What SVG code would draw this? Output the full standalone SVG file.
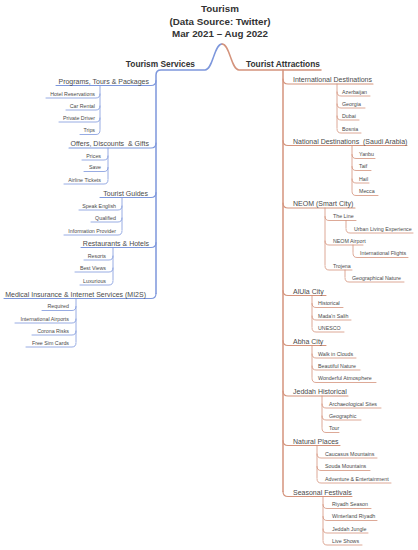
<svg xmlns="http://www.w3.org/2000/svg" width="418" height="550" viewBox="0 0 418 550">
<style>
text{font-family:"Liberation Sans",Arial,sans-serif;fill:#4a4a4a;white-space:pre}
.t{font-size:9.8px;font-weight:bold;fill:#333;text-anchor:middle}
.r{font-size:8.4px;font-weight:bold;fill:#333}
.l1{font-size:7px}
.l2{font-size:5.3px}
.e{text-anchor:end}
path{fill:none;stroke-linecap:round}
.b{stroke:#7d97dc}
.o{stroke:#d4937c}
.w0{stroke-width:1.5}
.w1{stroke-width:1.1}
.w2{stroke-width:0.8}
</style>
<rect width="418" height="550" fill="#fff"/>
<g id="title">
<text class="t" x="220" y="11.5">Tourism</text>
<text class="t" x="220" y="24.5">(Data Source: Twitter)</text>
<text class="t" x="220" y="36.5">Mar 2021 – Aug 2022</text>
</g>
<g id="connectors">
<path class="b w0" d="M222,44 C214,44 213,70 205,70 H161 Q156,70 156,75 V293.5"/>
<path class="o w0" d="M222,44 C230,44 231,70 239,70 H321"/>
<path class="o w0" d="M283,70 V491.5"/>
<g class="b w1">
<path d="M156,80.5 Q156,85.5 151,85.5 H56"/>
<path d="M156,143 Q156,148 151,148 H69"/>
<path d="M156,192.5 Q156,197.5 151,197.5 H100"/>
<path d="M156,242.5 Q156,247.5 151,247.5 H81"/>
<path d="M156,293.5 Q156,298.5 151,298.5 H4"/>
</g>
<g class="b w2">
<path d="M100,85.5 V129.5"/>
<path d="M100,94 Q100,98 96,98 H46"/>
<path d="M100,106 Q100,110 96,110 H66"/>
<path d="M100,118 Q100,122 96,122 H59"/>
<path d="M100,130.5 Q100,134.5 96,134.5 H80"/>
<path d="M108,148 V179"/>
<path d="M108,156 Q108,160 104,160 H82"/>
<path d="M108,167.5 Q108,171.5 104,171.5 H84"/>
<path d="M108,180 Q108,184 104,184 H64"/>
<path d="M122,197.5 V230"/>
<path d="M122,206 Q122,210 118,210 H79"/>
<path d="M122,218 Q122,222 118,222 H91"/>
<path d="M122,231 Q122,235 118,235 H64"/>
<path d="M113,247.5 V280"/>
<path d="M113,256 Q113,260 109,260 H84"/>
<path d="M113,268 Q113,272 109,272 H75"/>
<path d="M113,281 Q113,285 109,285 H80"/>
<path d="M76,298.5 V342"/>
<path d="M76,306.5 Q76,310.5 72,310.5 H42"/>
<path d="M76,319 Q76,323 72,323 H15"/>
<path d="M76,331 Q76,335 72,335 H32"/>
<path d="M76,343 Q76,347 72,347 H26"/>
</g>
<g class="o w1">
<path d="M283,79 Q283,84 288,84 H373"/>
<path d="M283,140.5 Q283,145.5 288,145.5 H407"/>
<path d="M283,203 Q283,208 288,208 H355"/>
<path d="M283,290.5 Q283,295.5 288,295.5 H326"/>
<path d="M283,340.5 Q283,345.5 288,345.5 H326"/>
<path d="M283,391 Q283,396 288,396 H348"/>
<path d="M283,440.5 Q283,445.5 288,445.5 H340"/>
<path d="M283,491.5 Q283,496.5 288,496.5 H352"/>
</g>
<g class="o w2">
<path d="M337,84 V128"/>
<path d="M337,92 Q337,96 341,96 H370"/>
<path d="M337,104 Q337,108 341,108 H365"/>
<path d="M337,116 Q337,120 341,120 H359"/>
<path d="M337,129 Q337,133 341,133 H361"/>
<path d="M352,145.5 V190.5"/>
<path d="M352,154.5 Q352,158.5 356,158.5 H375"/>
<path d="M352,166.5 Q352,170.5 356,170.5 H371"/>
<path d="M352,179 Q352,183 356,183 H369"/>
<path d="M352,191.5 Q352,195.5 356,195.5 H378"/>
<path d="M325,208 V265"/>
<path d="M325,216.5 Q325,220.5 329,220.5 H356"/>
<path d="M325,241 Q325,245 329,245 H363"/>
<path d="M325,266 Q325,270 329,270 H352"/>
<path d="M346,220.5 V228"/>
<path d="M346,229 Q346,233 350,233 H413"/>
<path d="M353,245 V252.5"/>
<path d="M353,253.5 Q353,257.5 357,257.5 H408"/>
<path d="M345,270 V277"/>
<path d="M345,278 Q345,282 349,282 H404"/>
<path d="M312,295.5 V327"/>
<path d="M312,303.5 Q312,307.5 316,307.5 H343"/>
<path d="M312,316 Q312,320 316,320 H351"/>
<path d="M312,328 Q312,332 316,332 H344"/>
<path d="M312,345.5 V377.5"/>
<path d="M312,354 Q312,358 316,358 H356"/>
<path d="M312,366 Q312,370 316,370 H360"/>
<path d="M312,378.5 Q312,382.5 316,382.5 H376"/>
<path d="M322,396 V427.5"/>
<path d="M322,404 Q322,408 326,408 H381"/>
<path d="M322,416 Q322,420 326,420 H361"/>
<path d="M322,428.5 Q322,432.5 326,432.5 H339"/>
<path d="M317,445.5 V478"/>
<path d="M317,454 Q317,458 321,458 H377"/>
<path d="M317,466.5 Q317,470.5 321,470.5 H370"/>
<path d="M317,479 Q317,483 321,483 H391"/>
<path d="M323,496.5 V540"/>
<path d="M323,504.5 Q323,508.5 327,508.5 H371"/>
<path d="M323,516.5 Q323,520.5 327,520.5 H377"/>
<path d="M323,529 Q323,533 327,533 H368"/>
<path d="M323,541 Q323,545 327,545 H362"/>
</g>
</g>
<g id="tourism-services"><text class="r e" x="195" y="67">Tourism Services</text></g>
<g id="tourist-attractions"><text class="r" x="246" y="67">Tourist Attractions</text></g>
<g id="programs"><text class="l1 e" x="149" y="83.5">Programs, Tours &amp; Packages</text></g>
<g id="hotel-reservations"><text class="l2 e" x="95" y="95.9">Hotel Reservations</text></g>
<g id="car-rental"><text class="l2 e" x="95" y="107.9">Car Rental</text></g>
<g id="private-driver"><text class="l2 e" x="95" y="119.9">Private Driver</text></g>
<g id="trips"><text class="l2 e" x="95" y="132.4">Trips</text></g>
<g id="offers"><text class="l1 e" x="149" y="146">Offers, Discounts  &amp; Gifts</text></g>
<g id="prices"><text class="l2 e" x="101" y="157.9">Prices</text></g>
<g id="save"><text class="l2 e" x="101" y="169.4">Save</text></g>
<g id="airline-tickets"><text class="l2 e" x="101" y="181.9">Airline Tickets</text></g>
<g id="tourist-guides"><text class="l1 e" x="148" y="195.5">Tourist Guides</text></g>
<g id="speak-english"><text class="l2 e" x="116" y="207.9">Speak English</text></g>
<g id="qualified"><text class="l2 e" x="116" y="219.9">Qualified</text></g>
<g id="information-provider"><text class="l2 e" x="116" y="232.9">Information Provider</text></g>
<g id="restaurants"><text class="l1 e" x="149" y="245.5">Restaurants &amp; Hotels</text></g>
<g id="resorts"><text class="l2 e" x="106" y="257.9">Resorts</text></g>
<g id="best-views"><text class="l2 e" x="106" y="269.9">Best Views</text></g>
<g id="luxurious"><text class="l2 e" x="106" y="282.9">Luxurious</text></g>
<g id="medical"><text class="l1 e" x="146" y="296.5">Medical Insurance &amp; Internet Services (MI2S)</text></g>
<g id="required"><text class="l2 e" x="69" y="308.4">Required</text></g>
<g id="international-airports"><text class="l2 e" x="69" y="320.9">International Airports</text></g>
<g id="corona-risks"><text class="l2 e" x="69" y="332.9">Corona Risks</text></g>
<g id="free-sim-cards"><text class="l2 e" x="69" y="344.9">Free Sim Cards</text></g>
<g id="international-destinations"><text class="l1" x="293" y="82">International Destinations</text></g>
<g id="azerbaijan"><text class="l2" x="342" y="93.9">Azerbaijan</text></g>
<g id="georgia"><text class="l2" x="342" y="105.9">Georgia</text></g>
<g id="dubai"><text class="l2" x="342" y="117.9">Dubai</text></g>
<g id="bosnia"><text class="l2" x="342" y="130.9">Bosnia</text></g>
<g id="national-destinations"><text class="l1" x="293" y="143.5">National Destinations  (Saudi Arabia)</text></g>
<g id="yanbu"><text class="l2" x="359" y="156.4">Yanbu</text></g>
<g id="taif"><text class="l2" x="359" y="168.4">Taif</text></g>
<g id="hail"><text class="l2" x="359" y="180.9">Hail</text></g>
<g id="mecca"><text class="l2" x="359" y="193.4">Mecca</text></g>
<g id="neom"><text class="l1" x="293" y="206">NEOM (Smart City)</text></g>
<g id="the-line"><text class="l2" x="333" y="218.4">The Line</text></g>
<g id="urban-living"><text class="l2" x="354" y="230.9">Urban Living Experience</text></g>
<g id="neom-airport"><text class="l2" x="333" y="242.9">NEOM Airport</text></g>
<g id="international-flights"><text class="l2" x="360" y="255.4">International Flights</text></g>
<g id="trojena"><text class="l2" x="333" y="267.9">Trojena</text></g>
<g id="geographical-nature"><text class="l2" x="352" y="279.9">Geographical Nature</text></g>
<g id="alula"><text class="l1" x="293" y="293.5">AlUla City</text></g>
<g id="historical"><text class="l2" x="318" y="305.4">Historical</text></g>
<g id="madan-salih"><text class="l2" x="318" y="317.9">Mada'n Salih</text></g>
<g id="unesco"><text class="l2" x="318" y="329.9">UNESCO</text></g>
<g id="abha"><text class="l1" x="293" y="343.5">Abha City</text></g>
<g id="walk-in-clouds"><text class="l2" x="318" y="355.9">Walk in Clouds</text></g>
<g id="beautiful-nature"><text class="l2" x="318" y="367.9">Beautiful Nature</text></g>
<g id="wonderful-atmosphere"><text class="l2" x="318" y="380.4">Wonderful Atmosphere</text></g>
<g id="jeddah-historical"><text class="l1" x="293" y="394">Jeddah Historical</text></g>
<g id="archaeological-sites"><text class="l2" x="329" y="405.9">Archaeological Sites</text></g>
<g id="geographic"><text class="l2" x="329" y="417.9">Geographic</text></g>
<g id="tour"><text class="l2" x="329" y="430.4">Tour</text></g>
<g id="natural-places"><text class="l1" x="293" y="443.5">Natural Places</text></g>
<g id="caucasus"><text class="l2" x="325" y="455.9">Caucasus Mountains</text></g>
<g id="souda"><text class="l2" x="325" y="468.4">Souda Mountains</text></g>
<g id="adventure"><text class="l2" x="325" y="480.9">Adventure &amp; Entertainment</text></g>
<g id="seasonal-festivals"><text class="l1" x="293" y="494.5">Seasonal Festivals</text></g>
<g id="riyadh-season"><text class="l2" x="332" y="506.4">Riyadh Season</text></g>
<g id="winterland"><text class="l2" x="332" y="518.4">Winterland Riyadh</text></g>
<g id="jeddah-jungle"><text class="l2" x="332" y="530.9">Jeddah Jungle</text></g>
<g id="live-shows"><text class="l2" x="332" y="542.9">Live Shows</text></g>
</svg>
